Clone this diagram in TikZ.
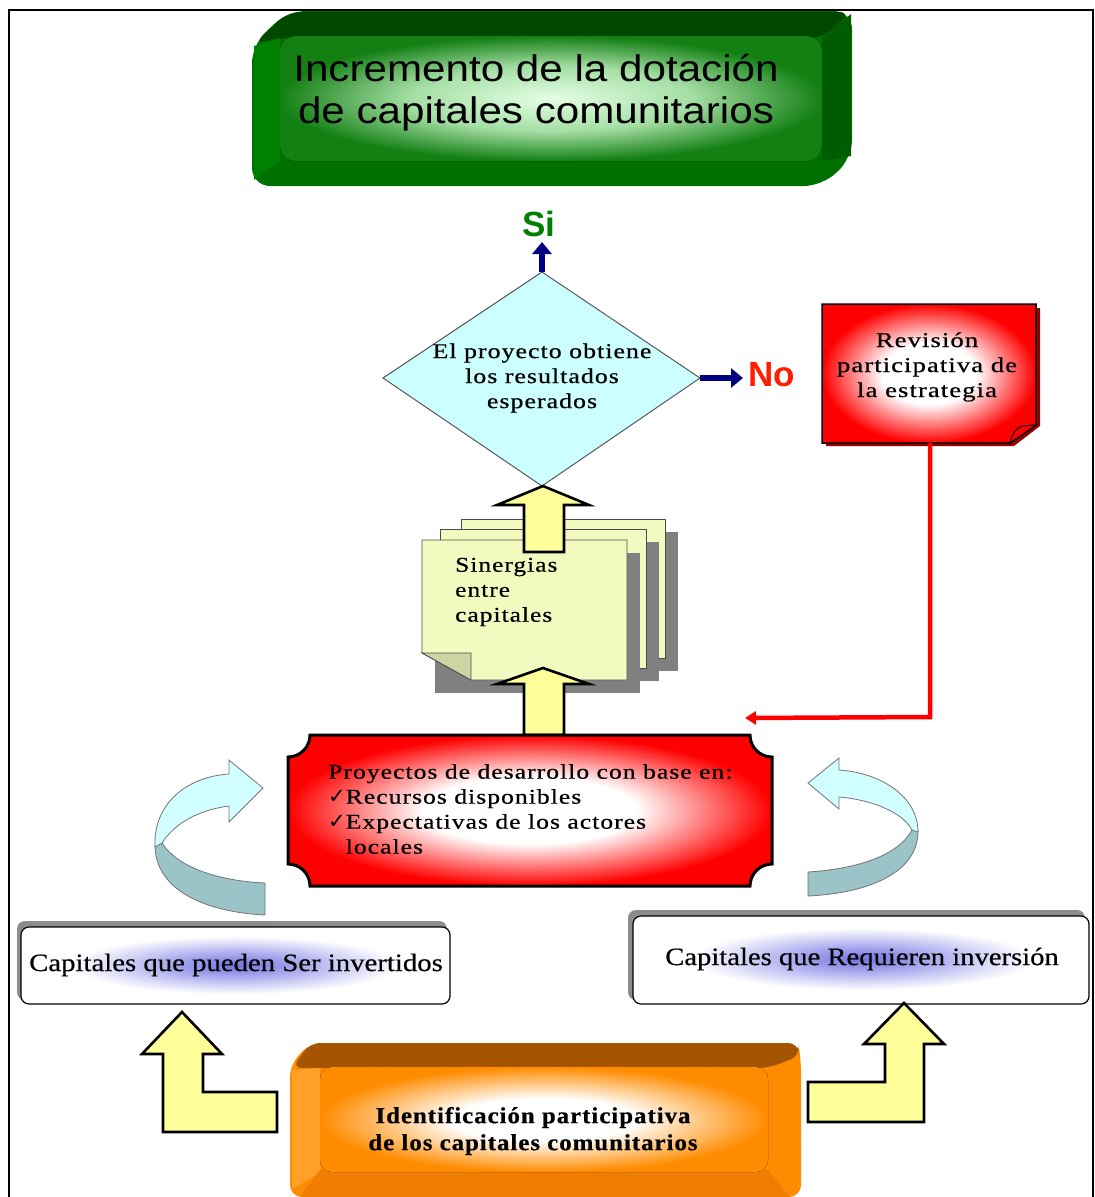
\documentclass[tikz,border=0pt]{standalone}
\usepackage{fontspec}
\usepackage{graphicx}
\setmainfont{Liberation Serif}[LetterSpace=4, FakeBold=0.5]
\newfontfamily\plainserif{Liberation Serif}[FakeBold=0.4]
\newfontfamily\headsans{Liberation Sans}
\newfontfamily\symbolfont{DejaVu Sans}
\usetikzlibrary{arrows.meta}

\definecolor{navyblue}{RGB}{0,0,128}
\definecolor{titlebase}{RGB}{0,112,0}
\definecolor{titletop}{RGB}{0,72,0}
\definecolor{titleright}{RGB}{0,92,0}
\definecolor{titleleft}{RGB}{0,128,0}
\definecolor{glowgreenA}{RGB}{228,255,228}
\definecolor{glowgreenB}{RGB}{165,222,165}
\definecolor{glowgreenC}{RGB}{20,128,20}
\definecolor{siGreen}{RGB}{0,128,0}
\definecolor{noRed}{RGB}{255,30,0}
\definecolor{diamondfill}{RGB}{204,255,255}
\definecolor{blockyellow}{RGB}{255,255,153}
\definecolor{pagefill}{RGB}{243,250,192}
\definecolor{ribbonlight}{RGB}{210,255,255}
\definecolor{ribbondark}{RGB}{155,196,200}
\definecolor{boxred}{RGB}{255,0,0}
\definecolor{darkred}{RGB}{150,0,0}
\definecolor{orangebase}{RGB}{255,140,0}
\definecolor{orangetop}{RGB}{165,84,0}
\definecolor{orangeside}{RGB}{240,125,0}
\definecolor{orangeleft}{RGB}{255,160,40}
\definecolor{blueA}{RGB}{115,115,222}
\definecolor{blueB}{RGB}{175,175,240}

\pgfdeclareradialshading{greenglow}{\pgfpoint{0bp}{0bp}}{color(0bp)=(glowgreenA); color(13bp)=(glowgreenB); color(25bp)=(glowgreenC); color(50bp)=(glowgreenC)}
\pgfdeclareradialshading{redglow}{\pgfpoint{0bp}{0bp}}{color(0bp)=(white); color(11bp)=(white); color(25bp)=(boxred); color(50bp)=(boxred)}
\pgfdeclareradialshading{orangeglow}{\pgfpoint{0bp}{0bp}}{color(0bp)=(white); color(10bp)=(white); color(25bp)=(orangebase); color(50bp)=(orangebase)}
\pgfdeclareradialshading{blueglow}{\pgfpoint{0bp}{0bp}}{color(0bp)=(blueA); color(11bp)=(blueB); color(25bp)=(white); color(50bp)=(white)}

\newcommand{\wide}[2]{\scalebox{#1}[1]{#2}}
\newcommand{\tick}{{\symbolfont\fontsize{21}{21}\selectfont ✓}}

\begin{document}
\begin{tikzpicture}[x=1pt,y=-1pt,
  serif/.style={font=\fontsize{21}{25}\selectfont, inner sep=0pt},
  capserif/.style={font=\plainserif\fontsize{25}{27}\selectfont, inner sep=0pt},
  blockarrow/.style={fill=blockyellow, draw=black, line width=2.6pt, line join=miter},
  navyline/.style={draw=navyblue, line width=6pt, -{Triangle[length=12pt,width=19pt]}},
  reviewline/.style={draw=red, line width=4.5pt, -{Triangle[length=11pt,width=13pt]}},
  ribbonedge/.style={draw=black!55, line width=0.8pt},
  page/.style={fill=pagefill, draw=black!70, line width=0.8pt},
  pageshadow/.style={fill=black!50},
  whitebox/.style={fill=white, draw=black, line width=1.2pt, rounded corners=8pt},
  graybevel/.style={fill=black!45, rounded corners=8pt},
]
\useasboundingbox (0,0) rectangle (1095,1197);
\fill[white] (0,0) rectangle (1095,1197);

% outer frame, open at the bottom
\draw[line width=2.2pt] (9,1197) -- (9,10) -- (1093,10) -- (1093,1197);

% ---------- title block ----------
\fill[titlebase, rounded corners=18pt] (252,45) -- (288,11) -- (852,11) -- (852,158) -- (822,186) -- (252,186) -- cycle;
\fill[titletop, rounded corners=12pt] (254,44) -- (288,12) -- (851,12) -- (822,38) -- (280,38) -- cycle;
\fill[titleright] (822,38) -- (851,14) -- (851,156) -- (822,161) -- cycle;
\fill[titleleft] (254,46) -- (280,38) -- (280,161) -- (254,180) -- cycle;
\fill[shading=greenglow, rounded corners=16pt] (280,36) rectangle (822,161);
\node[font=\headsans\fontsize{37}{42}\selectfont, align=center, inner sep=0pt] (title) at (536,93)
  {\wide{1.14}{Incremento de la dotación}\\\wide{1.14}{de capitales comunitarios}};

% ---------- decision ----------
\coordinate (dtop) at (542,272);
\coordinate (dright) at (700,378);
\coordinate (dbot) at (542,486);
\coordinate (dleft) at (383,378);
\draw[fill=diamondfill, draw=black!65, line width=1pt] (dtop) -- (dright) -- (dbot) -- (dleft) -- cycle;
\node[serif, align=center] (decision) at (542,378)
  {\wide{1.23}{El proyecto obtiene}\\\wide{1.23}{los resultados}\\\wide{1.23}{esperados}};

\node[font=\headsans\bfseries\fontsize{35}{35}\selectfont, text=siGreen, inner sep=0pt] (si) at (539,224) {Si};
\node[font=\headsans\bfseries\fontsize{35}{35}\selectfont, text=noRed, inner sep=0pt] (no) at (772,375) {No};
\draw[navyline] (dtop) -- (542,242);
\draw[navyline] (dright) -- (743,378);

% ---------- review note ----------
\fill[darkred] (826,308) -- (1040,308) -- (1040,426) -- (1014,446) -- (826,446) -- cycle;
\draw[shading=redglow, draw=black, line width=1.5pt] (822,304) -- (1036,304) -- (1036,425) -- (1010,443) -- (822,443) -- cycle;
\draw[fill=boxred, draw=black, line width=1pt] (1010,443) .. controls (1012,434) and (1016,428) .. (1022,426) -- (1036,425) -- cycle;
\node[serif, align=center] (review) at (927,367)
  {\wide{1.27}{Revisión}\\\wide{1.27}{participativa de}\\\wide{1.27}{la estrategia}};
\coordinate (reviewfoot) at (930,443);
\coordinate (projectentry) at (745,718);
\draw[reviewline] (reviewfoot) -- (930,717) -- (projectentry);

% ---------- stacked pages ----------
\fill[pageshadow] (474,532) rectangle (678,671);
\draw[page] (461,519) rectangle (665,658);
\fill[pageshadow] (453,542) rectangle (659,681);
\draw[page] (440,529) rectangle (646,668);
\fill[pageshadow] (435,553) rectangle (640,693);
\draw[page] (422,540) -- (627,540) -- (627,680) -- (471,680) -- (422,653) -- cycle;
\draw[fill=pagefill!85!black, draw=black!70, line width=0.8pt] (422,653) -- (471,653) -- (471,680) -- cycle;
\node[serif, anchor=west, align=left] (synergy) at (455,592)
  {\wide{1.21}{Sinergias}\\\wide{1.21}{entre}\\\wide{1.21}{capitales}};

% ---------- block arrows between the central steps ----------
\draw[blockarrow] (524,552) -- (524,505) -- (497,505) -- (543,486) -- (589,505) -- (564,505) -- (564,552) -- cycle;
\draw[blockarrow] (524,735) -- (524,684) -- (497,684) -- (543,668) -- (589,684) -- (564,684) -- (564,735) -- cycle;

% ---------- projects box with scooped corners ----------
\path[draw=black, line width=3pt, shading=redglow]
  (310,735) -- (750,735) arc[start angle=180, end angle=90, radius=22]
  -- (772,864) arc[start angle=270, end angle=180, radius=22]
  -- (310,886) arc[start angle=0, end angle=-90, radius=22]
  -- (288,757) arc[start angle=90, end angle=0, radius=22] -- cycle;
\node[serif, anchor=west, align=left] (projects) at (328,809)
  {\wide{1.22}{Proyectos de desarrollo con base en:}\\
   \tick\wide{1.22}{Recursos disponibles}\\
   \tick\wide{1.22}{Expectativas de los actores}\\
   \phantom{\tick}\wide{1.22}{locales}};

% ---------- curved ribbon arrows ----------
\draw[ribbonedge, fill=ribbondark] (155,845) .. controls (155,890) and (205,912) .. (265,915)
  -- (265,883) .. controls (220,881) and (178,868) .. (162,843) -- cycle;
\draw[ribbonedge, fill=ribbonlight] (155,847) .. controls (153,805) and (185,777) .. (229,774)
  -- (229,760) -- (263,788) -- (229,822) -- (229,806) .. controls (198,810) and (174,824) .. (162,843) -- cycle;

\draw[ribbonedge, fill=ribbondark] (918,830) .. controls (919,872) and (870,893) .. (808,896)
  -- (808,872) .. controls (856,869) and (898,856) .. (912,830) -- cycle;
\draw[ribbonedge, fill=ribbonlight] (918,832) .. controls (918,797) and (882,773) .. (839,770)
  -- (839,758) -- (808,783) -- (839,809) -- (839,797) .. controls (874,800) and (903,813) .. (912,830) -- cycle;

% ---------- capital boxes ----------
\fill[graybevel] (17,921) rectangle (447,1000);
\draw[whitebox] (21,927) rectangle (450,1004);
\fill[shading=blueglow] (70,936) rectangle (400,994);
\node[capserif] (investable) at (236,965) {\wide{1.15}{Capitales que pueden Ser invertidos}};

\fill[graybevel] (628,910) rectangle (1085,1000);
\draw[whitebox] (633,916) rectangle (1089,1004);
\fill[shading=blueglow] (690,928) rectangle (1035,990);
\node[capserif] (needy) at (862,959) {\wide{1.145}{Capitales que Requieren inversión}};

% ---------- identification block ----------
\fill[orangebase, rounded corners=12pt] (290,1065) -- (310,1043) -- (798,1043) -- (801,1060) -- (801,1197) -- (290,1197) -- cycle;
\fill[orangetop, rounded corners=10pt] (292,1068) -- (310,1043) -- (798,1043) -- (800,1056) -- (768,1068) -- cycle;
\fill[orangeleft] (292,1070) -- (320,1068) -- (320,1172) -- (292,1190) -- cycle;
\fill[orangeside] (320,1170) -- (768,1170) -- (790,1197) -- (300,1197) -- cycle;
\fill[shading=orangeglow, rounded corners=12pt] (320,1067) rectangle (768,1172);
\node[font=\bfseries\fontsize{23}{27}\selectfont, inner sep=0pt, align=center] (identify) at (533,1131)
  {\wide{1.08}{Identificación participativa}\\\wide{1.08}{de los capitales comunitarios}};

% ---------- bent block arrows ----------
\draw[blockarrow] (277,1092) -- (203,1092) -- (203,1054) -- (222,1054) -- (182,1012) -- (142,1054) -- (163,1054) -- (163,1132) -- (277,1132) -- cycle;
\draw[blockarrow] (808,1082) -- (885,1082) -- (885,1044) -- (864,1044) -- (904,1003) -- (944,1044) -- (924,1044) -- (924,1122) -- (808,1122) -- cycle;
\end{tikzpicture}
\end{document}
